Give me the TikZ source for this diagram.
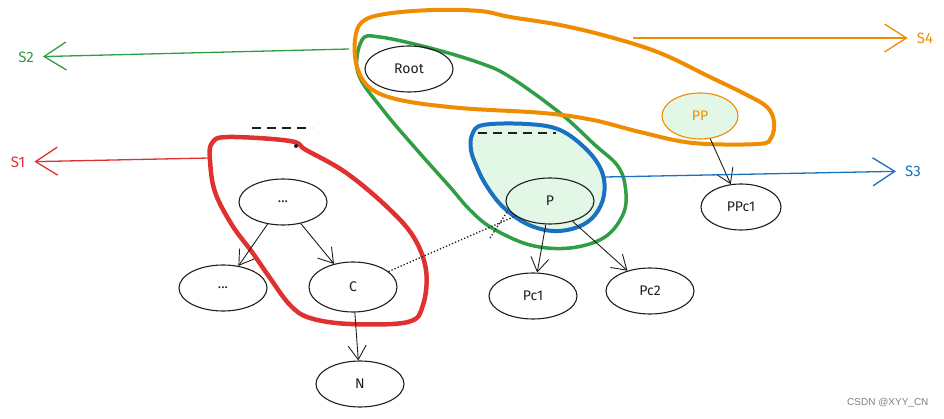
\documentclass[tikz,border=0pt]{standalone}
\usepackage{fontspec}
\setmainfont{Fira Sans}
\newfontfamily\markfont{Liberation Sans}
\usepackage{tikz}
\usetikzlibrary{arrows.meta,shapes.geometric}

\definecolor{ink}{HTML}{1E1E1E}
\definecolor{skred}{HTML}{E03131}
\definecolor{skgreen}{HTML}{2F9E44}
\definecolor{skblue}{HTML}{1971C2}
\definecolor{skorange}{HTML}{F08C00}
\definecolor{hatch}{HTML}{E3F7E6}

\begin{document}
\begin{tikzpicture}[
  x=1pt, y=-1pt,
  blob/.style={ellipse, draw=ink, line width=1.1pt, minimum width=88pt, minimum height=46pt,
               inner sep=0pt, font=\fontsize{14}{16}\selectfont, text=ink},
  tip/.style={-{Straight Barb[length=14pt,width=18pt]}, line width=0.9pt, draw=ink},
  far/.style={-{Straight Barb[length=22pt,width=28pt]}, line width=1.3pt},
  hull/.style={line width=4pt, line join=round},
  tag/.style={font=\fontsize{15}{17}\selectfont, inner sep=9pt},
  gapline/.style={ink, line width=1.2pt, dash pattern=on 9pt off 6pt}
]
\useasboundingbox (0,0) rectangle (944,419);

% coloured hulls
\draw[hull, skblue, fill=hatch] plot[smooth cycle, tension=0.6] coordinates {
  (472,135) (483,125) (527,124) (560,130) (587,150) (602,172) (604,195) (595,215)
  (578,227) (553,231) (527,224) (503,207) (486,185) (476,165) (471,150)};
\draw[hull, skred, line width=4.5pt] plot[smooth cycle, tension=0.6] coordinates {
  (210,160) (212,143) (228,137) (290,141) (306,150) (345,172) (385,205) (413,236)
  (426,270) (423,305) (408,322) (350,324) (310,318) (290,305) (270,278) (252,252)
  (232,225) (215,192)};
\draw[hull, skgreen, line width=3.5pt] plot[smooth cycle, tension=0.6] coordinates {
  (362,40) (380,37) (430,48) (480,63) (510,77) (560,113) (595,145) (617,165)
  (625,185) (624,212) (605,237) (570,248) (530,245) (492,228) (470,210) (450,187)
  (417,150) (383,110) (358,73)};
\draw[hull, skorange] plot[smooth cycle, tension=0.6] coordinates {
  (355,40) (362,22) (385,14) (433,10) (480,11) (510,17) (560,25) (610,37) (660,53)
  (710,77) (745,94) (767,107) (774,122) (771,138) (758,144) (693,143) (640,132)
  (593,120) (543,113) (460,108) (400,100) (370,88) (357,67)};

% tree nodes
\node[blob] (root) at (409,69)  {Root};
\node[blob] (top)  at (283,202) {...};
\node[blob] (left) at (223,288) {...};
\node[blob, minimum height=50pt] (c) at (353,287) {C};
\node[blob] (n)    at (360,384) {N};
\node[blob] (p)    at (550,201) {P};
\node[blob] (pc1)  at (533,296) {Pc1};
\node[blob] (pc2)  at (650,291) {Pc2};
\node[blob, minimum width=80pt] (ppc1) at (741,207) {PPc1};
\node[blob, draw=skorange, text=skorange, fill=hatch, minimum width=76pt] (pp) at (700,116) {PP};

% parent -> child
\draw[tip] (top) -- (left);
\draw[tip] (top) -- (c);
\draw[tip] (c) -- (n);
\draw[tip] (p) -- (pc1);
\draw[tip] (p) -- (pc2);
\draw[tip] (pp) -- (ppc1);

% dotted / dashed marks
\draw[ink, dotted, line width=1.3pt] (c) -- (p);
\coordinate (d1) at (490,238);
\coordinate (d2) at (507,212);
\draw[ink, dotted, line width=1.3pt] (d1) -- (d2);
\draw[gapline] (252,128) -- (312,128);
\draw[gapline] (478,133) -- (556,133);
\fill[ink] (296,146) circle (2pt);

% set labels
\node[tag, text=skgreen]  (s2) at (26,57)   {S2};
\node[tag, text=skred]    (s1) at (18,162)  {S1};
\node[tag, text=skorange] (s4) at (925,38)  {S4};
\node[tag, text=skblue]   (s3) at (913,171) {S3};
\coordinate (g0) at (349,49);
\coordinate (r0) at (209,158);
\coordinate (o0) at (633,38);
\coordinate (b0) at (605,177);
\draw[far, skgreen]  (g0) -- (s2);
\draw[far, skred]    (r0) -- (s1);
\draw[far, skorange] (o0) -- (s4);
\draw[far, skblue]   (b0) -- (s3);

\node[font=\markfont\fontsize{10}{12}\selectfont, text=gray, anchor=east] (mark) at (932,403) {CSDN @XYY\_CN};
\end{tikzpicture}
\end{document}
